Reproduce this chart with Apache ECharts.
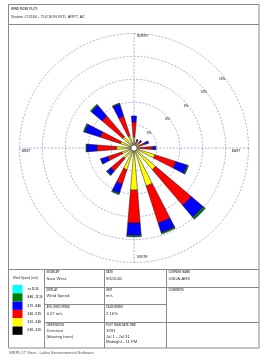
<!DOCTYPE html>
<html><head><meta charset="utf-8">
<script src="https://cdn.jsdelivr.net/npm/echarts@6/dist/echarts.min.js"></script>
<style>html,body{margin:0;padding:0;background:#fff}#c{width:265px;height:359px}</style>
</head><body><div id="c"></div><script>
// ---- data ----
const directions = ['N','NNE','NE','ENE','E','ESE','SE','SSE','S','SSW','SW','WSW','W','WNW','NW','NNW'];
const speedClasses = ['0.50 - 2.10','2.10 - 3.60','3.60 - 5.70','5.70 - 8.80','8.80 - 11.10','>= 11.10'];
const classColors = ['#000000','#ffff00','#ff0000','#0000ff','#008000','#00ffff'];
// frequency (%) per direction for each speed class
const freqClass1 = [0.18,0.18,0.18,0.18,0.18,0.24,0.30,0.30,0.30,0.24,0.18,0.18,0.18,0.18,0.18,0.18];
const freqClass2 = [1.26,0.42,0.42,0.60,0.54,2.64,3.42,4.92,5.22,2.76,1.62,1.50,2.10,1.68,1.74,1.50];
const freqClass3 = [1.98,0.36,0.48,0.78,1.68,2.88,6.12,5.10,4.32,1.98,2.16,1.92,2.58,2.76,3.54,2.70];
const freqClass4 = [0.78,0.24,0.24,0.48,0.42,1.56,2.04,1.32,1.62,1.26,0.66,0.96,1.32,2.16,1.86,1.68];
const freqClass5 = [0,0,0,0,0.06,0.18,0.30,0.18,0.18,0.18,0.12,0.06,0.12,0.18,0.18,0.12];
const freqClass6 = [0,0,0,0,0,0,0.06,0,0,0,0,0,0,0,0,0];
const radiusMax = 15, radiusStep = 3;
const titleLine1 = 'WIND ROSE PLOT:';
const titleLine2 = 'Station #23160 - TUCSON INTL ARPT, AZ';
const compassLabels = ['NORTH','EAST','SOUTH','WEST'];

const allFreq = [freqClass1,freqClass2,freqClass3,freqClass4,freqClass5,freqClass6];
const ringColor = '#9a9ad4';
const FF = 'Liberation Sans, Arial, sans-serif';
const C = [134,148], R = 114.5;

const chart = echarts.init(document.getElementById('c'), null, {renderer:'canvas'});

const series = allFreq.map((d,i)=>({
  type:'bar', coordinateSystem:'polar', polarIndex:0, name:speedClasses[i], stack:'ws',
  data:d.map(v=>v>0?v:'-'), barCategoryGap:'58%', silent:true,
  itemStyle:{color:classColors[i], borderColor:'#1a1a1a', borderWidth:0.5}
}));
series.push({type:'pie', center:C, radius:[0,3], silent:true, label:{show:false}, labelLine:{show:false},
  data:[{value:1, name:'calm'}], itemStyle:{color:'#fff', borderColor:'#333', borderWidth:0.6}, z:10});

function txt(x,y,text,size,opts){
  opts=opts||{};
  return {type:'text', x:x, y:y, silent:true, z:100, style:{text:text, fontSize:size, fontFamily:FF,
    fontWeight:opts.bold?'bold':'normal', fill:opts.color||'#333', align:opts.align||'left', verticalAlign:'middle'}};
}
function ln(x1,y1,x2,y2){
  return {type:'line', silent:true, z:90, shape:{x1:x1,y1:y1,x2:x2,y2:y2}, style:{stroke:'#8a8a8a', lineWidth:1}};
}
const H = {bold:true,color:'#555'};
const graphic = [
  {type:'rect', silent:true, z:90, shape:{x:8.5,y:4.5,width:250.5,height:343.5}, style:{fill:null, stroke:'#8a8a8a', lineWidth:1}},
  ln(8.5,24.5,259,24.5), ln(8.5,269.5,259,269.5),
  ln(44.5,269.5,44.5,348), ln(104.5,269.5,104.5,348), ln(166.5,269.5,166.5,348),
  ln(44.5,287.5,259,287.5), ln(44.5,304.5,166.5,304.5), ln(44.5,322.5,259,322.5),
  txt(11,9,titleLine1,3.0,H),
  txt(11,17,titleLine2,3.9,{color:'#333'}),
  txt(137,36,compassLabels[0],3.0,H),
  txt(236,151,compassLabels[1],3.0,{bold:true,color:'#555',align:'center'}),
  txt(137,257,compassLabels[2],3.0,H),
  txt(26,151,compassLabels[3],3.0,{bold:true,color:'#555',align:'center'}),
  txt(25.5,278,'Wind Speed (m/s)',3.2,{color:'#333',align:'center'}),
  txt(46.5,272.5,'MODELER',2.6,H),
  txt(106,272.5,'DATE',2.6,H),
  txt(168.5,272.5,'COMPANY NAME',2.6,H),
  txt(46.5,278.5,'Sara West',4.2),
  txt(106,278.5,'9/6/2002',4.2),
  txt(168.5,278.5,'USDA-ARS',4.2),
  txt(46.5,290,'DISPLAY',2.6,H),
  txt(106,290,'UNIT',2.6,H),
  txt(168.5,290,'COMMENTS',2.6,H),
  txt(46.5,296,'Wind Speed',4.2),
  txt(106,296,'m/s',4.2),
  txt(46.5,307.5,'AVG. WIND SPEED',2.6,H),
  txt(106,307.5,'CALM WINDS',2.6,H),
  txt(46.5,314,'4.07 m/s',4.2),
  txt(106,314,'2.16%',4.2),
  txt(46.5,325.5,'ORIENTATION',2.6,H),
  txt(106,325.5,'PLOT YEAR-DATE-TIME',2.6,H),
  txt(46.5,331,'Direction',4.2),
  txt(46.5,336.5,'(blowing from)',4.2),
  txt(106,331,'1991',4.2),
  txt(106,336.5,'Jul 1 - Jul 31',4.2),
  txt(106,342,'Midnight - 11 PM',4.2),
  txt(9,352.5,'WRPLOT View - Lakes Environmental Software',4.0,{color:'#555'})
];

const axHide = {axisLine:{show:false}, axisTick:{show:false}, axisLabel:{show:false}, splitLine:{show:false}};
const ringLine = {show:true, lineStyle:{color:ringColor, type:[2,1.5], width:0.8}};

chart.setOption({
  animation:false,
  backgroundColor:'#fff',
  polar:[{center:C, radius:R},{center:C, radius:R},{center:C, radius:R}],
  angleAxis:[
    Object.assign({polarIndex:0, type:'category', data:directions, startAngle:101.25, clockwise:true}, axHide),
    Object.assign({polarIndex:1, type:'value', min:0, max:360, interval:90, startAngle:90, clockwise:true}, axHide, {splitLine:ringLine}),
    {polarIndex:2, type:'value', min:0, max:360, startAngle:36, show:false}
  ],
  radiusAxis:[
    Object.assign({polarIndex:0, type:'value', min:0, max:radiusMax, interval:radiusStep}, axHide, {splitLine:ringLine}),
    {polarIndex:1, type:'value', min:0, max:radiusMax, show:false},
    Object.assign({polarIndex:2, type:'value', min:0, max:radiusMax, interval:radiusStep}, axHide,
      {axisLabel:{show:true, formatter:v=>v?v+'%':'', fontSize:3.2, fontFamily:FF, fontWeight:'bold', color:'#555', margin:2}})
  ],
  legend:{orient:'vertical', left:12.5, top:285, itemWidth:10, itemHeight:8.3, itemGap:0, icon:'rect', padding:0,
    selectedMode:false, data:speedClasses.slice().reverse(), itemStyle:{borderWidth:0},
    textStyle:{fontSize:2.8, fontFamily:FF, color:'#333', fontWeight:'bold'}},
  graphic:graphic,
  series:series
});
</script></body></html>
